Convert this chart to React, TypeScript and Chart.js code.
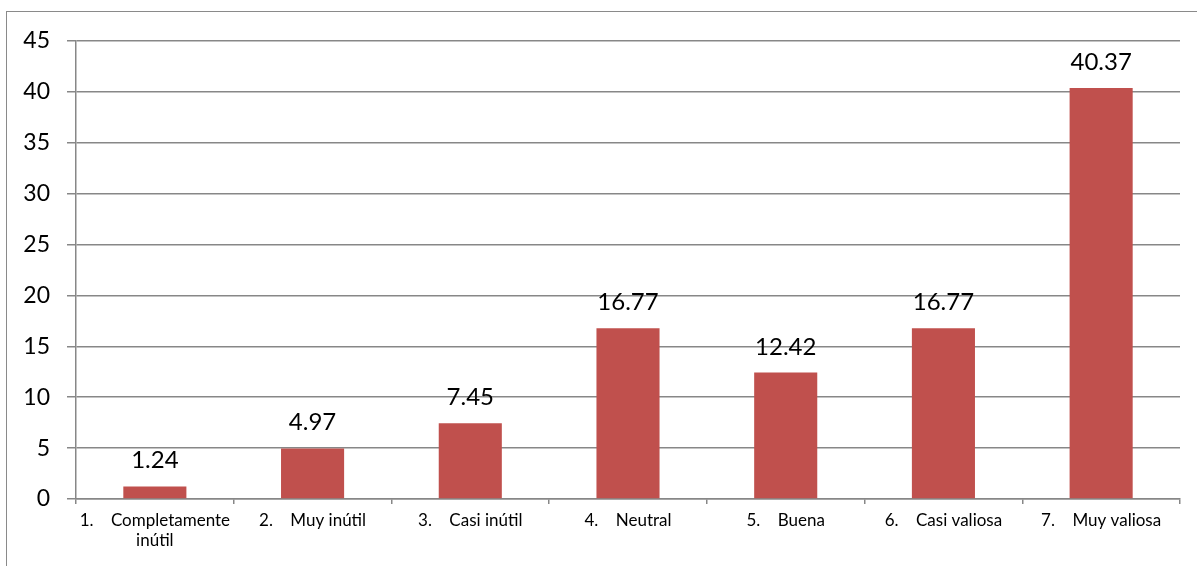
import React, { useEffect, useRef } from "react";
import { Chart, registerables } from "chart.js";

Chart.register(...registerables);

const categories: string[][] = [
  ["1.\u00A0\u00A0\u00A0\u00A0Completamente", "inútil"],
  ["2.\u00A0\u00A0\u00A0\u00A0Muy inútil"],
  ["3.\u00A0\u00A0\u00A0\u00A0Casi inútil"],
  ["4.\u00A0\u00A0\u00A0\u00A0Neutral"],
  ["5.\u00A0\u00A0\u00A0\u00A0Buena"],
  ["6.\u00A0\u00A0\u00A0\u00A0Casi valiosa"],
  ["7.\u00A0\u00A0\u00A0\u00A0Muy valiosa"],
];
const values: number[] = [1.24, 4.97, 7.45, 16.77, 12.42, 16.77, 40.37];
const yMin = 0;
const yMax = 45;
const yStep = 5;

const FONT = "Lato, 'Open Sans', sans-serif";
const BAR = "#C0504D";
const GRID = "#878787";

const dataLabels = {
  id: "dataLabels",
  afterDatasetsDraw(chart: any) {
    const ctx = chart.ctx;
    const meta = chart.getDatasetMeta(0);
    ctx.save();
    ctx.font = `24px ${FONT}`;
    ctx.fillStyle = "#000";
    ctx.textAlign = "center";
    ctx.textBaseline = "alphabetic";
    meta.data.forEach((bar: any, i: number) => {
      ctx.fillText(values[i].toFixed(2), bar.x, bar.y - 18);
    });
    ctx.restore();
  },
};

export default function App() {
  const ref = useRef<HTMLCanvasElement>(null);
  useEffect(() => {
    if (!ref.current) return;
    const chart = new Chart(ref.current, {
      type: "bar",
      data: {
        labels: categories,
        datasets: [
          {
            data: values,
            backgroundColor: BAR,
            categoryPercentage: 0.4,
            barPercentage: 1,
          },
        ],
      },
      options: {
        animation: false,
        responsive: false,
        maintainAspectRatio: false,
        layout: { padding: { left: 0, top: 41, right: 17, bottom: 0 } },
        plugins: { legend: { display: false }, tooltip: { enabled: false } },
        scales: {
          x: {
            grid: {
              drawOnChartArea: false,
              drawTicks: true,
              tickLength: 5,
              color: GRID,
              lineWidth: 1.5,
            },
            border: { color: GRID, width: 1.5 },
            ticks: {
              color: "#000",
              font: { family: FONT, size: 17, lineHeight: 1.2 },
              padding: 6,
              maxRotation: 0,
              autoSkip: false,
            },
            afterFit: (s: any) => {
              s.height = 67;
            },
          },
          y: {
            min: yMin,
            max: yMax,
            grid: { color: GRID, lineWidth: 1.5, tickLength: 9 },
            border: { color: GRID, width: 1.5 },
            ticks: {
              stepSize: yStep,
              color: "#000",
              font: { family: FONT, size: 23 },
              padding: 17,
            },
            afterFit: (s: any) => {
              s.width = 76;
            },
          },
        },
      },
      plugins: [dataLabels],
    });
    return () => chart.destroy();
  }, []);

  return (
    <div
      style={{
        position: "fixed",
        left: 0,
        top: 0,
        width: 1197,
        height: 566,
        overflow: "hidden",
        background: "#fff",
      }}
    >
      <div
        style={{
          position: "absolute",
          left: 6,
          top: 11,
          width: 1220,
          height: 600,
          border: "1.5px solid #8a8a8a",
        }}
      />
      <canvas
        ref={ref}
        width={1197}
        height={566}
        style={{ position: "absolute", left: 0, top: 0 }}
      />
    </div>
  );
}
